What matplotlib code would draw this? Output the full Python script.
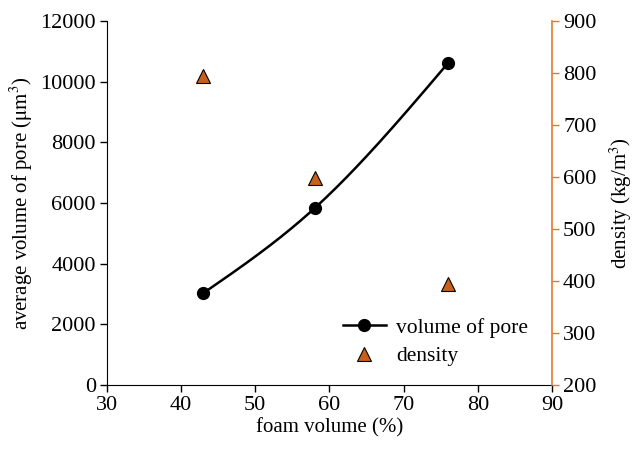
import numpy as np
import matplotlib
matplotlib.use("Agg")
import matplotlib.pyplot as plt
from matplotlib.lines import Line2D

plt.rcParams['font.family'] = ['Liberation Serif', 'DejaVu Serif']
plt.rcParams['mathtext.fontset'] = 'stix'

# Data
foam_volume = [43, 58, 76]
pore_volume = [3030, 5830, 10620]
density = [795, 598, 395]

x_ticks = [30, 40, 50, 60, 70, 80, 90]
left_ticks = [0, 2000, 4000, 6000, 8000, 10000, 12000]
right_ticks = [200, 300, 400, 500, 600, 700, 800, 900]

ORANGE = '#e2792f'
TRI_FILL = '#c8601a'


def natural_spline(xs, ys, n=200):
    """Natural cubic spline through the given points."""
    xs = np.asarray(xs, float)
    ys = np.asarray(ys, float)
    k = len(xs)
    h = np.diff(xs)
    A = np.zeros((k, k))
    b = np.zeros(k)
    A[0, 0] = A[-1, -1] = 1
    for i in range(1, k - 1):
        A[i, i - 1] = h[i - 1]
        A[i, i] = 2 * (h[i - 1] + h[i])
        A[i, i + 1] = h[i]
        b[i] = 6 * ((ys[i + 1] - ys[i]) / h[i] - (ys[i] - ys[i - 1]) / h[i - 1])
    M = np.linalg.solve(A, b)
    xx = np.linspace(xs[0], xs[-1], n)
    yy = np.empty_like(xx)
    for j, x in enumerate(xx):
        i = min(np.searchsorted(xs, x, side='right') - 1, k - 2)
        t0 = xs[i + 1] - x
        t1 = x - xs[i]
        yy[j] = (M[i] * t0 ** 3 + M[i + 1] * t1 ** 3) / (6 * h[i]) \
            + (ys[i] / h[i] - M[i] * h[i] / 6) * t0 \
            + (ys[i + 1] / h[i] - M[i + 1] * h[i] / 6) * t1
    return xx, yy


fig = plt.figure(figsize=(6.4, 4.49), dpi=100)
ax = fig.add_axes([0.167, 0.1425, 0.6955, 0.8105])
ax2 = ax.twinx()

fs_tick = 16
fs = 15

sx, sy = natural_spline(foam_volume, pore_volume)
ax.plot(sx, sy, color='black', lw=1.8)
ax.plot(foam_volume, pore_volume, 'o', color='black', ms=8.5)

ax2.plot(foam_volume, density, '^', color=TRI_FILL, mec='black', mew=0.8, ms=10,
         linestyle='none')

ax.set_xlim(30, 90)
ax.set_ylim(0, 12000)
ax2.set_ylim(200, 900)
ax.set_xticks(x_ticks)
ax.set_yticks(left_ticks)
ax2.set_yticks(right_ticks)

for a in (ax, ax2):
    a.spines['top'].set_visible(False)
ax2.spines['left'].set_visible(False)
ax2.spines['bottom'].set_visible(False)
ax.spines['right'].set_visible(False)
ax2.spines['right'].set_color(ORANGE)
ax2.spines['right'].set_linewidth(1.2)

ax.tick_params(axis='both', direction='out', length=5, width=1, labelsize=fs_tick, pad=3)
ax2.tick_params(axis='y', direction='out', length=5, width=1, colors=ORANGE,
                labelcolor='black', labelsize=fs_tick, pad=3)

ax.set_xlabel('foam volume (%)', fontsize=fs, labelpad=2)
ax.set_ylabel(r'average volume of pore ($\mathrm{\mu m^3}$)', fontsize=fs, labelpad=4)
ax2.set_ylabel(r'density (kg/m$^3$)', fontsize=fs, labelpad=8)

handles = [
    Line2D([], [], color='black', lw=1.8, marker='o', ms=8.5),
    Line2D([], [], color=TRI_FILL, mec='black', mew=0.8, marker='^', ms=10, linestyle='none'),
]
fig.legend(handles, ['volume of pore', 'density'], loc='upper left',
           bbox_to_anchor=(0.505, 0.336), frameon=False, fontsize=15.5,
           handlelength=2.0, handletextpad=0.5, labelspacing=0.4)

fig.savefig('out.png', dpi=100)
